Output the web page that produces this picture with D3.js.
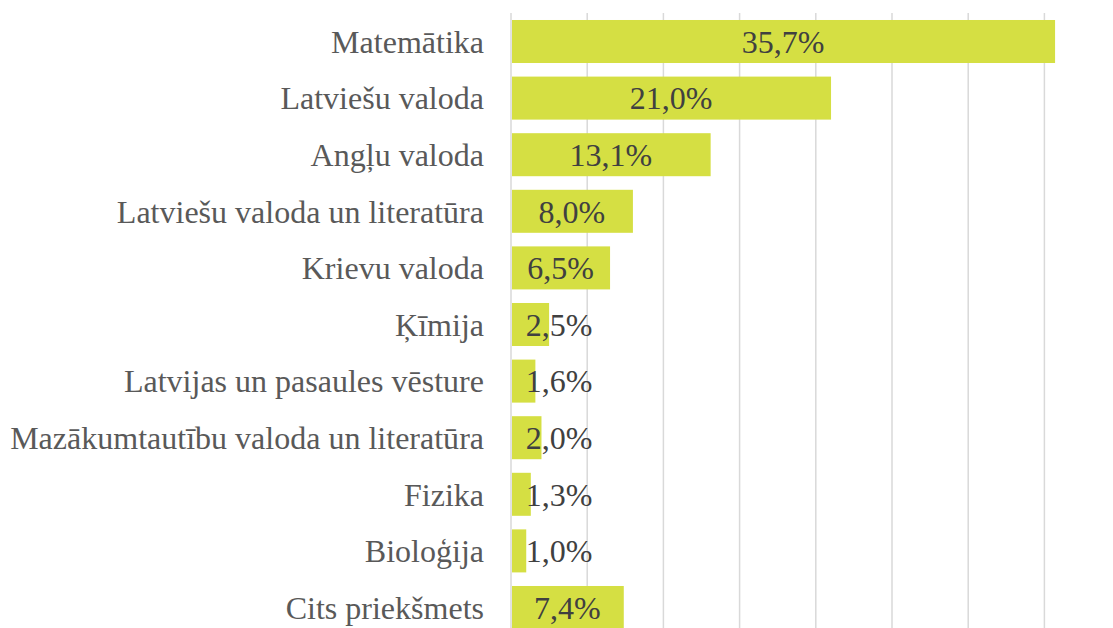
<!DOCTYPE html>
<html>
<head>
<meta charset="utf-8">
<script src="https://cdn.jsdelivr.net/npm/d3@7"></script>
<style>
  body { margin: 0; background: #fff; }
  svg { display: block; }
  text { font-family: "Liberation Serif", Tinos, "Times New Roman", "DejaVu Serif", serif; }
</style>
</head>
<body>
<div id="chart"></div>
<script>
// subjects and shares (%)
const subjects = [
    'Matemātika',
    'Latviešu valoda',
    'Angļu valoda',
    'Latviešu valoda un literatūra',
    'Krievu valoda',
    'Ķīmija',
    'Latvijas un pasaules vēsture',
    'Mazākumtautību valoda un literatūra',
    'Fizika',
    'Bioloģija',
    'Cits priekšmets'
];
const shares = [35.7, 21.0, 13.1, 8.0, 6.5, 2.5, 1.6, 2.0, 1.3, 1.0, 7.4];
const gridTicks = [0, 5, 10, 15, 20, 25, 30, 35, 40];

const width = 1113;
const height = 628;

const svg = d3.select('#chart')
              .append('svg')
              .attr('width', width)
              .attr('height', height);

const x = d3.scaleLinear().domain([0, 40]).range([511, 1120.6]);
const y = d3.scaleBand()
            .domain(subjects)
            .range([13.2, 635.8])
            .paddingInner(0.24)
            .paddingOuter(0.12);

// pick a font size so the longest label spans like the original
const probe = svg.append('text')
                 .style('font-size', '26px')
                 .text('Mazākumtautību valoda un literatūra');
const measured = probe.node().getComputedTextLength();
probe.remove();
const fontSize = measured > 0 ? 26 * 474 / measured : 26;

// vertical gridlines
svg.append('g')
   .selectAll('line')
   .data(gridTicks)
   .enter()
   .append('line')
   .attr('x1', (d) => x(d))
   .attr('x2', (d) => x(d))
   .attr('y1', 13)
   .attr('y2', height)
   .attr('stroke', '#d9d9d9')
   .attr('stroke-width', 1.5);

// bars
svg.append('g')
   .selectAll('rect')
   .data(shares)
   .enter()
   .append('rect')
   .attr('x', x(0) + 1)
   .attr('y', (d, i) => y(subjects[i]))
   .attr('width', (d) => x(d) - x(0) - 1)
   .attr('height', y.bandwidth())
   .attr('fill', '#d5df43');

// category labels
svg.append('g')
   .selectAll('text')
   .data(subjects)
   .enter()
   .append('text')
   .attr('x', 484)
   .attr('y', (d) => y(d) + y.bandwidth() / 2)
   .attr('dy', '0.35em')
   .attr('text-anchor', 'end')
   .style('font-size', fontSize + 'px')
   .attr('fill', '#595959')
   .text((d) => d);

// value labels, pushed right when the bar is too short
svg.append('g')
   .selectAll('text')
   .data(shares)
   .enter()
   .append('text')
   .attr('x', (d) => Math.max((x(0) + x(d)) / 2, 559))
   .attr('y', (d, i) => y(subjects[i]) + y.bandwidth() / 2)
   .attr('dy', '0.35em')
   .attr('text-anchor', 'middle')
   .style('font-size', fontSize + 'px')
   .attr('fill', '#404040')
   .text((d) => d.toFixed(1).replace('.', ',') + '%');
</script>
</body>
</html>
